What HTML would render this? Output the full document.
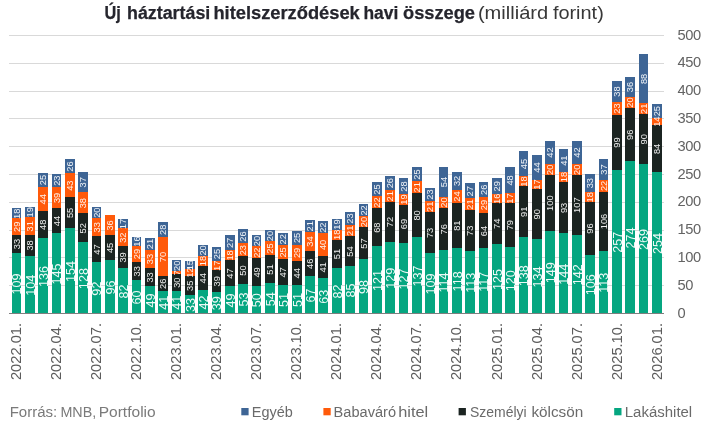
<!DOCTYPE html>
<html lang="hu"><head><meta charset="utf-8"><title>Új háztartási hitelszerződések havi összege</title>
<style>html,body{margin:0;padding:0;background:#fff}svg{display:block}</style></head>
<body>
<svg width="719" height="428" viewBox="0 0 719 428" font-family="'Liberation Sans', sans-serif">
<rect width="719" height="428" fill="#fff"/>
<rect x="9" y="285" width="655" height="1" fill="#d9d9d9"/>
<rect x="9" y="257" width="655" height="1" fill="#d9d9d9"/>
<rect x="9" y="230" width="655" height="1" fill="#d9d9d9"/>
<rect x="9" y="202" width="655" height="1" fill="#d9d9d9"/>
<rect x="9" y="174" width="655" height="1" fill="#d9d9d9"/>
<rect x="9" y="146" width="655" height="1" fill="#d9d9d9"/>
<rect x="9" y="118" width="655" height="1" fill="#d9d9d9"/>
<rect x="9" y="91" width="655" height="1" fill="#d9d9d9"/>
<rect x="9" y="63" width="655" height="1" fill="#d9d9d9"/>
<rect x="9" y="35" width="655" height="1" fill="#d9d9d9"/>
<g shape-rendering="crispEdges"><rect x="12" y="253" width="9" height="61" fill="#05a680"/><rect x="12" y="235" width="9" height="18" fill="#1b2421"/><rect x="12" y="218" width="9" height="17" fill="#ff5a0a"/><rect x="12" y="208" width="9" height="10" fill="#3e6595"/><rect x="25" y="256" width="10" height="58" fill="#05a680"/><rect x="25" y="235" width="10" height="21" fill="#1b2421"/><rect x="25" y="217" width="10" height="18" fill="#ff5a0a"/><rect x="25" y="207" width="10" height="10" fill="#3e6595"/><rect x="38" y="238" width="10" height="76" fill="#05a680"/><rect x="38" y="211" width="10" height="27" fill="#1b2421"/><rect x="38" y="187" width="10" height="24" fill="#ff5a0a"/><rect x="38" y="173" width="10" height="14" fill="#3e6595"/><rect x="52" y="233" width="9" height="81" fill="#05a680"/><rect x="52" y="208" width="9" height="25" fill="#1b2421"/><rect x="52" y="187" width="9" height="21" fill="#ff5a0a"/><rect x="52" y="174" width="9" height="13" fill="#3e6595"/><rect x="65" y="228" width="10" height="86" fill="#05a680"/><rect x="65" y="197" width="10" height="31" fill="#1b2421"/><rect x="65" y="173" width="10" height="24" fill="#ff5a0a"/><rect x="65" y="159" width="10" height="14" fill="#3e6595"/><rect x="78" y="242" width="10" height="72" fill="#05a680"/><rect x="78" y="213" width="10" height="29" fill="#1b2421"/><rect x="78" y="192" width="10" height="21" fill="#ff5a0a"/><rect x="78" y="172" width="10" height="20" fill="#3e6595"/><rect x="92" y="262" width="9" height="52" fill="#05a680"/><rect x="92" y="236" width="9" height="26" fill="#1b2421"/><rect x="92" y="218" width="9" height="18" fill="#ff5a0a"/><rect x="92" y="207" width="9" height="11" fill="#3e6595"/><rect x="105" y="260" width="10" height="54" fill="#05a680"/><rect x="105" y="235" width="10" height="25" fill="#1b2421"/><rect x="105" y="215" width="10" height="20" fill="#ff5a0a"/><rect x="118" y="268" width="10" height="46" fill="#05a680"/><rect x="118" y="246" width="10" height="22" fill="#1b2421"/><rect x="118" y="228" width="10" height="18" fill="#ff5a0a"/><rect x="118" y="219" width="10" height="9" fill="#3e6595"/><rect x="132" y="280" width="9" height="34" fill="#05a680"/><rect x="132" y="262" width="9" height="18" fill="#1b2421"/><rect x="132" y="246" width="9" height="16" fill="#ff5a0a"/><rect x="132" y="237" width="9" height="9" fill="#3e6595"/><rect x="145" y="286" width="10" height="28" fill="#05a680"/><rect x="145" y="268" width="10" height="18" fill="#1b2421"/><rect x="145" y="250" width="10" height="18" fill="#ff5a0a"/><rect x="145" y="238" width="10" height="12" fill="#3e6595"/><rect x="158" y="291" width="10" height="23" fill="#05a680"/><rect x="158" y="276" width="10" height="15" fill="#1b2421"/><rect x="158" y="237" width="10" height="39" fill="#ff5a0a"/><rect x="158" y="222" width="10" height="15" fill="#3e6595"/><rect x="172" y="291" width="9" height="23" fill="#05a680"/><rect x="172" y="274" width="9" height="17" fill="#1b2421"/><rect x="172" y="271" width="9" height="3" fill="#ff5a0a"/><rect x="172" y="260" width="9" height="11" fill="#3e6595"/><rect x="185" y="295" width="10" height="19" fill="#05a680"/><rect x="185" y="276" width="10" height="19" fill="#1b2421"/><rect x="185" y="269" width="10" height="7" fill="#ff5a0a"/><rect x="185" y="261" width="10" height="8" fill="#3e6595"/><rect x="198" y="290" width="10" height="24" fill="#05a680"/><rect x="198" y="266" width="10" height="24" fill="#1b2421"/><rect x="198" y="256" width="10" height="10" fill="#ff5a0a"/><rect x="198" y="245" width="10" height="11" fill="#3e6595"/><rect x="212" y="292" width="9" height="22" fill="#05a680"/><rect x="212" y="270" width="9" height="22" fill="#1b2421"/><rect x="212" y="261" width="9" height="9" fill="#ff5a0a"/><rect x="212" y="247" width="9" height="14" fill="#3e6595"/><rect x="225" y="286" width="10" height="28" fill="#05a680"/><rect x="225" y="260" width="10" height="26" fill="#1b2421"/><rect x="225" y="250" width="10" height="10" fill="#ff5a0a"/><rect x="225" y="235" width="10" height="15" fill="#3e6595"/><rect x="238" y="284" width="10" height="30" fill="#05a680"/><rect x="238" y="256" width="10" height="28" fill="#1b2421"/><rect x="238" y="243" width="10" height="13" fill="#ff5a0a"/><rect x="238" y="229" width="10" height="14" fill="#3e6595"/><rect x="252" y="286" width="9" height="28" fill="#05a680"/><rect x="252" y="258" width="9" height="28" fill="#1b2421"/><rect x="252" y="246" width="9" height="12" fill="#ff5a0a"/><rect x="252" y="235" width="9" height="11" fill="#3e6595"/><rect x="265" y="283" width="10" height="31" fill="#05a680"/><rect x="265" y="255" width="10" height="28" fill="#1b2421"/><rect x="265" y="241" width="10" height="14" fill="#ff5a0a"/><rect x="265" y="230" width="10" height="11" fill="#3e6595"/><rect x="278" y="285" width="10" height="29" fill="#05a680"/><rect x="278" y="259" width="10" height="26" fill="#1b2421"/><rect x="278" y="245" width="10" height="14" fill="#ff5a0a"/><rect x="278" y="233" width="10" height="12" fill="#3e6595"/><rect x="292" y="285" width="10" height="29" fill="#05a680"/><rect x="292" y="261" width="10" height="24" fill="#1b2421"/><rect x="292" y="245" width="10" height="16" fill="#ff5a0a"/><rect x="292" y="231" width="10" height="14" fill="#3e6595"/><rect x="305" y="276" width="10" height="38" fill="#05a680"/><rect x="305" y="251" width="10" height="25" fill="#1b2421"/><rect x="305" y="232" width="10" height="19" fill="#ff5a0a"/><rect x="305" y="220" width="10" height="12" fill="#3e6595"/><rect x="318" y="278" width="10" height="36" fill="#05a680"/><rect x="318" y="256" width="10" height="22" fill="#1b2421"/><rect x="318" y="233" width="10" height="23" fill="#ff5a0a"/><rect x="318" y="221" width="10" height="12" fill="#3e6595"/><rect x="332" y="268" width="10" height="46" fill="#05a680"/><rect x="332" y="240" width="10" height="28" fill="#1b2421"/><rect x="332" y="230" width="10" height="10" fill="#ff5a0a"/><rect x="332" y="219" width="10" height="11" fill="#3e6595"/><rect x="345" y="266" width="10" height="48" fill="#05a680"/><rect x="345" y="236" width="10" height="30" fill="#1b2421"/><rect x="345" y="225" width="10" height="11" fill="#ff5a0a"/><rect x="345" y="212" width="10" height="13" fill="#3e6595"/><rect x="359" y="259" width="9" height="55" fill="#05a680"/><rect x="359" y="227" width="9" height="32" fill="#1b2421"/><rect x="359" y="216" width="9" height="11" fill="#ff5a0a"/><rect x="359" y="204" width="9" height="12" fill="#3e6595"/><rect x="372" y="246" width="10" height="68" fill="#05a680"/><rect x="372" y="208" width="10" height="38" fill="#1b2421"/><rect x="372" y="196" width="10" height="12" fill="#ff5a0a"/><rect x="372" y="182" width="10" height="14" fill="#3e6595"/><rect x="385" y="242" width="10" height="72" fill="#05a680"/><rect x="385" y="202" width="10" height="40" fill="#1b2421"/><rect x="385" y="190" width="10" height="12" fill="#ff5a0a"/><rect x="385" y="176" width="10" height="14" fill="#3e6595"/><rect x="399" y="243" width="9" height="71" fill="#05a680"/><rect x="399" y="205" width="9" height="38" fill="#1b2421"/><rect x="399" y="194" width="9" height="11" fill="#ff5a0a"/><rect x="399" y="178" width="9" height="16" fill="#3e6595"/><rect x="412" y="237" width="10" height="77" fill="#05a680"/><rect x="412" y="193" width="10" height="44" fill="#1b2421"/><rect x="412" y="181" width="10" height="12" fill="#ff5a0a"/><rect x="412" y="167" width="10" height="14" fill="#3e6595"/><rect x="425" y="253" width="10" height="61" fill="#05a680"/><rect x="425" y="212" width="10" height="41" fill="#1b2421"/><rect x="425" y="201" width="10" height="11" fill="#ff5a0a"/><rect x="425" y="188" width="10" height="13" fill="#3e6595"/><rect x="439" y="250" width="9" height="64" fill="#05a680"/><rect x="439" y="208" width="9" height="42" fill="#1b2421"/><rect x="439" y="197" width="9" height="11" fill="#ff5a0a"/><rect x="439" y="167" width="9" height="30" fill="#3e6595"/><rect x="452" y="248" width="10" height="66" fill="#05a680"/><rect x="452" y="203" width="10" height="45" fill="#1b2421"/><rect x="452" y="190" width="10" height="13" fill="#ff5a0a"/><rect x="452" y="172" width="10" height="18" fill="#3e6595"/><rect x="465" y="251" width="10" height="63" fill="#05a680"/><rect x="465" y="210" width="10" height="41" fill="#1b2421"/><rect x="465" y="198" width="10" height="12" fill="#ff5a0a"/><rect x="465" y="183" width="10" height="15" fill="#3e6595"/><rect x="479" y="248" width="9" height="66" fill="#05a680"/><rect x="479" y="213" width="9" height="35" fill="#1b2421"/><rect x="479" y="197" width="9" height="16" fill="#ff5a0a"/><rect x="479" y="182" width="9" height="15" fill="#3e6595"/><rect x="492" y="244" width="10" height="70" fill="#05a680"/><rect x="492" y="203" width="10" height="41" fill="#1b2421"/><rect x="492" y="194" width="10" height="9" fill="#ff5a0a"/><rect x="492" y="178" width="10" height="16" fill="#3e6595"/><rect x="505" y="247" width="10" height="67" fill="#05a680"/><rect x="505" y="203" width="10" height="44" fill="#1b2421"/><rect x="505" y="193" width="10" height="10" fill="#ff5a0a"/><rect x="505" y="167" width="10" height="26" fill="#3e6595"/><rect x="519" y="237" width="9" height="77" fill="#05a680"/><rect x="519" y="186" width="9" height="51" fill="#1b2421"/><rect x="519" y="176" width="9" height="10" fill="#ff5a0a"/><rect x="519" y="151" width="9" height="25" fill="#3e6595"/><rect x="532" y="239" width="10" height="75" fill="#05a680"/><rect x="532" y="189" width="10" height="50" fill="#1b2421"/><rect x="532" y="180" width="10" height="9" fill="#ff5a0a"/><rect x="532" y="155" width="10" height="25" fill="#3e6595"/><rect x="545" y="231" width="10" height="83" fill="#05a680"/><rect x="545" y="175" width="10" height="56" fill="#1b2421"/><rect x="545" y="164" width="10" height="11" fill="#ff5a0a"/><rect x="545" y="141" width="10" height="23" fill="#3e6595"/><rect x="559" y="233" width="9" height="81" fill="#05a680"/><rect x="559" y="182" width="9" height="51" fill="#1b2421"/><rect x="559" y="172" width="9" height="10" fill="#ff5a0a"/><rect x="559" y="149" width="9" height="23" fill="#3e6595"/><rect x="572" y="235" width="10" height="79" fill="#05a680"/><rect x="572" y="175" width="10" height="60" fill="#1b2421"/><rect x="572" y="164" width="10" height="11" fill="#ff5a0a"/><rect x="572" y="141" width="10" height="23" fill="#3e6595"/><rect x="585" y="255" width="10" height="59" fill="#05a680"/><rect x="585" y="202" width="10" height="53" fill="#1b2421"/><rect x="585" y="192" width="10" height="10" fill="#ff5a0a"/><rect x="585" y="174" width="10" height="18" fill="#3e6595"/><rect x="599" y="251" width="9" height="63" fill="#05a680"/><rect x="599" y="192" width="9" height="59" fill="#1b2421"/><rect x="599" y="180" width="9" height="12" fill="#ff5a0a"/><rect x="599" y="159" width="9" height="21" fill="#3e6595"/><rect x="612" y="170" width="10" height="144" fill="#05a680"/><rect x="612" y="115" width="10" height="55" fill="#1b2421"/><rect x="612" y="102" width="10" height="13" fill="#ff5a0a"/><rect x="612" y="81" width="10" height="21" fill="#3e6595"/><rect x="625" y="161" width="10" height="153" fill="#05a680"/><rect x="625" y="108" width="10" height="53" fill="#1b2421"/><rect x="625" y="97" width="10" height="11" fill="#ff5a0a"/><rect x="625" y="77" width="10" height="20" fill="#3e6595"/><rect x="639" y="164" width="9" height="150" fill="#05a680"/><rect x="639" y="114" width="9" height="50" fill="#1b2421"/><rect x="639" y="103" width="9" height="11" fill="#ff5a0a"/><rect x="639" y="54" width="9" height="49" fill="#3e6595"/><rect x="652" y="172" width="10" height="142" fill="#05a680"/><rect x="652" y="125" width="10" height="47" fill="#1b2421"/><rect x="652" y="118" width="10" height="7" fill="#ff5a0a"/><rect x="652" y="104" width="10" height="14" fill="#3e6595"/></g>
<g fill="#fff" fill-opacity="0.93" text-anchor="middle"><text x="21.04" y="283.90" font-size="12.6" transform="rotate(-90 21.04 283.90)">109</text><text x="19.86" y="244.02" font-size="9.33" transform="rotate(-90 19.86 244.02)">33</text><text x="19.86" y="226.79" font-size="9.33" transform="rotate(-90 19.86 226.79)">29</text><text x="19.86" y="213.72" font-size="9.33" transform="rotate(-90 19.86 213.72)">18</text><text x="34.54" y="285.29" font-size="12.6" transform="rotate(-90 34.54 285.29)">104</text><text x="33.36" y="245.41" font-size="9.33" transform="rotate(-90 33.36 245.41)">38</text><text x="33.36" y="226.23" font-size="9.33" transform="rotate(-90 33.36 226.23)">31</text><text x="33.36" y="212.33" font-size="9.33" transform="rotate(-90 33.36 212.33)">19</text><text x="47.54" y="276.39" font-size="12.6" transform="rotate(-90 47.54 276.39)">136</text><text x="46.36" y="224.84" font-size="9.33" transform="rotate(-90 46.36 224.84)">48</text><text x="46.36" y="199.26" font-size="9.33" transform="rotate(-90 46.36 199.26)">44</text><text x="46.36" y="180.08" font-size="9.33" transform="rotate(-90 46.36 180.08)">25</text><text x="61.04" y="273.89" font-size="12.6" transform="rotate(-90 61.04 273.89)">145</text><text x="59.86" y="220.95" font-size="9.33" transform="rotate(-90 59.86 220.95)">44</text><text x="59.86" y="197.87" font-size="9.33" transform="rotate(-90 59.86 197.87)">39</text><text x="59.86" y="180.64" font-size="9.33" transform="rotate(-90 59.86 180.64)">23</text><text x="74.54" y="271.39" font-size="12.6" transform="rotate(-90 74.54 271.39)">154</text><text x="73.36" y="212.89" font-size="9.33" transform="rotate(-90 73.36 212.89)">55</text><text x="73.36" y="185.64" font-size="9.33" transform="rotate(-90 73.36 185.64)">43</text><text x="73.36" y="166.46" font-size="9.33" transform="rotate(-90 73.36 166.46)">26</text><text x="87.54" y="278.62" font-size="12.6" transform="rotate(-90 87.54 278.62)">128</text><text x="86.36" y="228.18" font-size="9.33" transform="rotate(-90 86.36 228.18)">52</text><text x="86.36" y="203.16" font-size="9.33" transform="rotate(-90 86.36 203.16)">38</text><text x="86.36" y="182.31" font-size="9.33" transform="rotate(-90 86.36 182.31)">37</text><text x="101.04" y="288.62" font-size="12.6" transform="rotate(-90 101.04 288.62)">92</text><text x="99.86" y="249.58" font-size="9.33" transform="rotate(-90 99.86 249.58)">47</text><text x="99.86" y="227.34" font-size="9.33" transform="rotate(-90 99.86 227.34)">33</text><text x="99.86" y="212.61" font-size="9.33" transform="rotate(-90 99.86 212.61)">20</text><text x="114.54" y="287.51" font-size="12.6" transform="rotate(-90 114.54 287.51)">96</text><text x="113.36" y="247.91" font-size="9.33" transform="rotate(-90 113.36 247.91)">45</text><text x="113.36" y="225.40" font-size="9.33" transform="rotate(-90 113.36 225.40)">36</text><text x="127.54" y="291.40" font-size="12.6" transform="rotate(-90 127.54 291.40)">82</text><text x="126.36" y="257.37" font-size="9.33" transform="rotate(-90 126.36 257.37)">39</text><text x="126.36" y="237.63" font-size="9.33" transform="rotate(-90 126.36 237.63)">32</text><text x="126.36" y="224.01" font-size="9.33" transform="rotate(-90 126.36 224.01)">17</text><text x="141.04" y="297.52" font-size="12.6" transform="rotate(-90 141.04 297.52)">60</text><text x="139.86" y="271.27" font-size="9.33" transform="rotate(-90 139.86 271.27)">33</text><text x="139.86" y="254.03" font-size="9.33" transform="rotate(-90 139.86 254.03)">29</text><text x="139.86" y="241.52" font-size="9.33" transform="rotate(-90 139.86 241.52)">16</text><text x="154.54" y="300.58" font-size="12.6" transform="rotate(-90 154.54 300.58)">49</text><text x="153.36" y="277.38" font-size="9.33" transform="rotate(-90 153.36 277.38)">33</text><text x="153.36" y="259.03" font-size="9.33" transform="rotate(-90 153.36 259.03)">33</text><text x="153.36" y="244.02" font-size="9.33" transform="rotate(-90 153.36 244.02)">21</text><text x="167.54" y="302.80" font-size="12.6" transform="rotate(-90 167.54 302.80)">41</text><text x="166.36" y="283.78" font-size="9.33" transform="rotate(-90 166.36 283.78)">26</text><text x="166.36" y="257.09" font-size="9.33" transform="rotate(-90 166.36 257.09)">70</text><text x="166.36" y="229.84" font-size="9.33" transform="rotate(-90 166.36 229.84)">28</text><text x="181.04" y="302.80" font-size="12.6" transform="rotate(-90 181.04 302.80)">41</text><text x="179.86" y="282.66" font-size="9.33" transform="rotate(-90 179.86 282.66)">30</text><text x="179.86" y="272.85" font-size="9.33" transform="rotate(-90 179.86 272.85)">7</text><text x="179.86" y="265.82" font-size="9.33" transform="rotate(-90 179.86 265.82)">20</text><text x="194.54" y="305.03" font-size="12.6" transform="rotate(-90 194.54 305.03)">33</text><text x="193.36" y="285.72" font-size="9.33" transform="rotate(-90 193.36 285.72)">35</text><text x="193.36" y="272.66" font-size="9.33" transform="rotate(-90 193.36 272.66)">12</text><text x="193.36" y="265.15" font-size="9.33" transform="rotate(-90 193.36 265.15)">15</text><text x="207.54" y="302.52" font-size="12.6" transform="rotate(-90 207.54 302.52)">42</text><text x="206.36" y="278.22" font-size="9.33" transform="rotate(-90 206.36 278.22)">44</text><text x="206.36" y="260.98" font-size="9.33" transform="rotate(-90 206.36 260.98)">18</text><text x="206.36" y="250.42" font-size="9.33" transform="rotate(-90 206.36 250.42)">20</text><text x="221.04" y="303.36" font-size="12.6" transform="rotate(-90 221.04 303.36)">39</text><text x="219.86" y="281.27" font-size="9.33" transform="rotate(-90 219.86 281.27)">39</text><text x="219.86" y="265.71" font-size="9.33" transform="rotate(-90 219.86 265.71)">17</text><text x="219.86" y="254.03" font-size="9.33" transform="rotate(-90 219.86 254.03)">25</text><text x="234.54" y="300.58" font-size="12.6" transform="rotate(-90 234.54 300.58)">49</text><text x="233.36" y="273.49" font-size="9.33" transform="rotate(-90 233.36 273.49)">47</text><text x="233.36" y="255.42" font-size="9.33" transform="rotate(-90 233.36 255.42)">18</text><text x="233.36" y="242.91" font-size="9.33" transform="rotate(-90 233.36 242.91)">27</text><text x="247.54" y="299.47" font-size="12.6" transform="rotate(-90 247.54 299.47)">53</text><text x="246.36" y="270.43" font-size="9.33" transform="rotate(-90 246.36 270.43)">50</text><text x="246.36" y="250.14" font-size="9.33" transform="rotate(-90 246.36 250.14)">23</text><text x="246.36" y="236.52" font-size="9.33" transform="rotate(-90 246.36 236.52)">26</text><text x="261.04" y="300.30" font-size="12.6" transform="rotate(-90 261.04 300.30)">50</text><text x="259.86" y="272.38" font-size="9.33" transform="rotate(-90 259.86 272.38)">49</text><text x="259.86" y="252.64" font-size="9.33" transform="rotate(-90 259.86 252.64)">22</text><text x="259.86" y="240.96" font-size="9.33" transform="rotate(-90 259.86 240.96)">20</text><text x="274.54" y="299.19" font-size="12.6" transform="rotate(-90 274.54 299.19)">54</text><text x="273.36" y="269.60" font-size="9.33" transform="rotate(-90 273.36 269.60)">51</text><text x="273.36" y="248.47" font-size="9.33" transform="rotate(-90 273.36 248.47)">25</text><text x="273.36" y="235.96" font-size="9.33" transform="rotate(-90 273.36 235.96)">20</text><text x="287.54" y="300.02" font-size="12.6" transform="rotate(-90 287.54 300.02)">51</text><text x="286.36" y="272.38" font-size="9.33" transform="rotate(-90 286.36 272.38)">47</text><text x="286.36" y="252.36" font-size="9.33" transform="rotate(-90 286.36 252.36)">25</text><text x="286.36" y="239.30" font-size="9.33" transform="rotate(-90 286.36 239.30)">22</text><text x="301.54" y="300.02" font-size="12.6" transform="rotate(-90 301.54 300.02)">51</text><text x="300.36" y="273.21" font-size="9.33" transform="rotate(-90 300.36 273.21)">44</text><text x="300.36" y="252.92" font-size="9.33" transform="rotate(-90 300.36 252.92)">29</text><text x="300.36" y="237.91" font-size="9.33" transform="rotate(-90 300.36 237.91)">25</text><text x="314.54" y="295.57" font-size="12.6" transform="rotate(-90 314.54 295.57)">67</text><text x="313.36" y="263.76" font-size="9.33" transform="rotate(-90 313.36 263.76)">46</text><text x="313.36" y="241.52" font-size="9.33" transform="rotate(-90 313.36 241.52)">34</text><text x="313.36" y="226.23" font-size="9.33" transform="rotate(-90 313.36 226.23)">21</text><text x="327.54" y="296.69" font-size="12.6" transform="rotate(-90 327.54 296.69)">63</text><text x="326.36" y="267.37" font-size="9.33" transform="rotate(-90 326.36 267.37)">41</text><text x="326.36" y="244.86" font-size="9.33" transform="rotate(-90 326.36 244.86)">40</text><text x="326.36" y="227.62" font-size="9.33" transform="rotate(-90 326.36 227.62)">22</text><text x="341.54" y="291.40" font-size="12.6" transform="rotate(-90 341.54 291.40)">82</text><text x="340.36" y="254.03" font-size="9.33" transform="rotate(-90 340.36 254.03)">51</text><text x="340.36" y="234.85" font-size="9.33" transform="rotate(-90 340.36 234.85)">18</text><text x="340.36" y="224.56" font-size="9.33" transform="rotate(-90 340.36 224.56)">19</text><text x="354.54" y="290.57" font-size="12.6" transform="rotate(-90 354.54 290.57)">85</text><text x="353.36" y="251.53" font-size="9.33" transform="rotate(-90 353.36 251.53)">54</text><text x="353.36" y="230.68" font-size="9.33" transform="rotate(-90 353.36 230.68)">21</text><text x="353.36" y="218.45" font-size="9.33" transform="rotate(-90 353.36 218.45)">23</text><text x="368.04" y="286.96" font-size="12.6" transform="rotate(-90 368.04 286.96)">98</text><text x="366.86" y="243.47" font-size="9.33" transform="rotate(-90 366.86 243.47)">57</text><text x="366.86" y="222.06" font-size="9.33" transform="rotate(-90 366.86 222.06)">20</text><text x="366.86" y="210.38" font-size="9.33" transform="rotate(-90 366.86 210.38)">22</text><text x="381.54" y="280.56" font-size="12.6" transform="rotate(-90 381.54 280.56)">121</text><text x="380.36" y="227.62" font-size="9.33" transform="rotate(-90 380.36 227.62)">68</text><text x="380.36" y="202.60" font-size="9.33" transform="rotate(-90 380.36 202.60)">22</text><text x="380.36" y="189.53" font-size="9.33" transform="rotate(-90 380.36 189.53)">25</text><text x="394.54" y="278.34" font-size="12.6" transform="rotate(-90 394.54 278.34)">129</text><text x="393.36" y="222.06" font-size="9.33" transform="rotate(-90 393.36 222.06)">72</text><text x="393.36" y="196.21" font-size="9.33" transform="rotate(-90 393.36 196.21)">21</text><text x="393.36" y="183.14" font-size="9.33" transform="rotate(-90 393.36 183.14)">26</text><text x="408.04" y="278.89" font-size="12.6" transform="rotate(-90 408.04 278.89)">127</text><text x="406.86" y="224.01" font-size="9.33" transform="rotate(-90 406.86 224.01)">69</text><text x="406.86" y="199.54" font-size="9.33" transform="rotate(-90 406.86 199.54)">19</text><text x="406.86" y="186.48" font-size="9.33" transform="rotate(-90 406.86 186.48)">28</text><text x="421.54" y="276.11" font-size="12.6" transform="rotate(-90 421.54 276.11)">137</text><text x="420.36" y="215.39" font-size="9.33" transform="rotate(-90 420.36 215.39)">80</text><text x="420.36" y="187.31" font-size="9.33" transform="rotate(-90 420.36 187.31)">21</text><text x="420.36" y="174.52" font-size="9.33" transform="rotate(-90 420.36 174.52)">25</text><text x="434.54" y="283.90" font-size="12.6" transform="rotate(-90 434.54 283.90)">109</text><text x="433.36" y="232.90" font-size="9.33" transform="rotate(-90 433.36 232.90)">73</text><text x="433.36" y="206.77" font-size="9.33" transform="rotate(-90 433.36 206.77)">21</text><text x="433.36" y="194.54" font-size="9.33" transform="rotate(-90 433.36 194.54)">23</text><text x="448.04" y="282.51" font-size="12.6" transform="rotate(-90 448.04 282.51)">114</text><text x="446.86" y="229.29" font-size="9.33" transform="rotate(-90 446.86 229.29)">76</text><text x="446.86" y="202.60" font-size="9.33" transform="rotate(-90 446.86 202.60)">20</text><text x="446.86" y="182.03" font-size="9.33" transform="rotate(-90 446.86 182.03)">54</text><text x="461.54" y="281.40" font-size="12.6" transform="rotate(-90 461.54 281.40)">118</text><text x="460.36" y="225.67" font-size="9.33" transform="rotate(-90 460.36 225.67)">81</text><text x="460.36" y="196.48" font-size="9.33" transform="rotate(-90 460.36 196.48)">24</text><text x="460.36" y="180.92" font-size="9.33" transform="rotate(-90 460.36 180.92)">32</text><text x="474.54" y="282.79" font-size="12.6" transform="rotate(-90 474.54 282.79)">113</text><text x="473.36" y="230.68" font-size="9.33" transform="rotate(-90 473.36 230.68)">73</text><text x="473.36" y="204.55" font-size="9.33" transform="rotate(-90 473.36 204.55)">21</text><text x="473.36" y="191.20" font-size="9.33" transform="rotate(-90 473.36 191.20)">27</text><text x="488.04" y="281.67" font-size="12.6" transform="rotate(-90 488.04 281.67)">117</text><text x="486.86" y="230.96" font-size="9.33" transform="rotate(-90 486.86 230.96)">64</text><text x="486.86" y="205.10" font-size="9.33" transform="rotate(-90 486.86 205.10)">29</text><text x="486.86" y="189.81" font-size="9.33" transform="rotate(-90 486.86 189.81)">26</text><text x="501.54" y="279.45" font-size="12.6" transform="rotate(-90 501.54 279.45)">125</text><text x="500.36" y="223.73" font-size="9.33" transform="rotate(-90 500.36 223.73)">74</text><text x="500.36" y="198.71" font-size="9.33" transform="rotate(-90 500.36 198.71)">16</text><text x="500.36" y="186.20" font-size="9.33" transform="rotate(-90 500.36 186.20)">29</text><text x="514.54" y="280.84" font-size="12.6" transform="rotate(-90 514.54 280.84)">120</text><text x="513.36" y="225.12" font-size="9.33" transform="rotate(-90 513.36 225.12)">79</text><text x="513.36" y="198.43" font-size="9.33" transform="rotate(-90 513.36 198.43)">17</text><text x="513.36" y="180.36" font-size="9.33" transform="rotate(-90 513.36 180.36)">48</text><text x="528.04" y="275.84" font-size="12.6" transform="rotate(-90 528.04 275.84)">138</text><text x="526.86" y="211.77" font-size="9.33" transform="rotate(-90 526.86 211.77)">91</text><text x="526.86" y="181.47" font-size="9.33" transform="rotate(-90 526.86 181.47)">18</text><text x="526.86" y="163.96" font-size="9.33" transform="rotate(-90 526.86 163.96)">45</text><text x="541.54" y="276.95" font-size="12.6" transform="rotate(-90 541.54 276.95)">134</text><text x="540.36" y="214.28" font-size="9.33" transform="rotate(-90 540.36 214.28)">90</text><text x="540.36" y="184.53" font-size="9.33" transform="rotate(-90 540.36 184.53)">17</text><text x="540.36" y="167.57" font-size="9.33" transform="rotate(-90 540.36 167.57)">44</text><text x="554.54" y="272.78" font-size="12.6" transform="rotate(-90 554.54 272.78)">149</text><text x="553.36" y="203.16" font-size="9.33" transform="rotate(-90 553.36 203.16)">100</text><text x="553.36" y="169.80" font-size="9.33" transform="rotate(-90 553.36 169.80)">20</text><text x="553.36" y="152.56" font-size="9.33" transform="rotate(-90 553.36 152.56)">42</text><text x="568.04" y="274.17" font-size="12.6" transform="rotate(-90 568.04 274.17)">144</text><text x="566.86" y="207.88" font-size="9.33" transform="rotate(-90 566.86 207.88)">93</text><text x="566.86" y="177.02" font-size="9.33" transform="rotate(-90 566.86 177.02)">18</text><text x="566.86" y="160.62" font-size="9.33" transform="rotate(-90 566.86 160.62)">41</text><text x="581.54" y="274.72" font-size="12.6" transform="rotate(-90 581.54 274.72)">142</text><text x="580.36" y="205.10" font-size="9.33" transform="rotate(-90 580.36 205.10)">107</text><text x="580.36" y="169.80" font-size="9.33" transform="rotate(-90 580.36 169.80)">20</text><text x="580.36" y="152.56" font-size="9.33" transform="rotate(-90 580.36 152.56)">42</text><text x="594.54" y="284.73" font-size="12.6" transform="rotate(-90 594.54 284.73)">106</text><text x="593.36" y="228.59" font-size="9.33" transform="rotate(-90 593.36 228.59)">96</text><text x="593.36" y="197.32" font-size="9.33" transform="rotate(-90 593.36 197.32)">18</text><text x="593.36" y="183.14" font-size="9.33" transform="rotate(-90 593.36 183.14)">33</text><text x="608.04" y="282.79" font-size="12.6" transform="rotate(-90 608.04 282.79)">113</text><text x="606.86" y="221.50" font-size="9.33" transform="rotate(-90 606.86 221.50)">106</text><text x="606.86" y="185.92" font-size="9.33" transform="rotate(-90 606.86 185.92)">22</text><text x="606.86" y="169.52" font-size="9.33" transform="rotate(-90 606.86 169.52)">37</text><text x="621.54" y="242.28" font-size="12.6" transform="rotate(-90 621.54 242.28)">257</text><text x="620.36" y="142.44" font-size="9.33" transform="rotate(-90 620.36 142.44)">99</text><text x="620.36" y="108.52" font-size="9.33" transform="rotate(-90 620.36 108.52)">23</text><text x="620.36" y="91.57" font-size="9.33" transform="rotate(-90 620.36 91.57)">38</text><text x="634.54" y="238.03" font-size="12.6" transform="rotate(-90 634.54 238.03)">274</text><text x="633.36" y="134.77" font-size="9.33" transform="rotate(-90 633.36 134.77)">96</text><text x="633.36" y="102.52" font-size="9.33" transform="rotate(-90 633.36 102.52)">20</text><text x="633.36" y="86.95" font-size="9.33" transform="rotate(-90 633.36 86.95)">36</text><text x="648.04" y="239.42" font-size="12.6" transform="rotate(-90 648.04 239.42)">269</text><text x="646.86" y="139.22" font-size="9.33" transform="rotate(-90 646.86 139.22)">90</text><text x="646.86" y="108.77" font-size="9.33" transform="rotate(-90 646.86 108.77)">21</text><text x="646.86" y="78.89" font-size="9.33" transform="rotate(-90 646.86 78.89)">88</text><text x="661.54" y="243.59" font-size="12.6" transform="rotate(-90 661.54 243.59)">254</text><text x="660.36" y="148.89" font-size="9.33" transform="rotate(-90 660.36 148.89)">84</text><text x="660.36" y="121.65" font-size="9.33" transform="rotate(-90 660.36 121.65)">14</text><text x="660.36" y="111.14" font-size="9.33" transform="rotate(-90 660.36 111.14)">25</text></g>
<rect x="9" y="313" width="655" height="1" fill="#7f7f7f"/>
<g fill="#636363" font-size="14.67" letter-spacing="-0.3"><text x="677.4" y="317.50">0</text><text x="677.4" y="289.70">50</text><text x="677.4" y="261.90">100</text><text x="677.4" y="234.10">150</text><text x="677.4" y="206.30">200</text><text x="677.4" y="178.50">250</text><text x="677.4" y="150.70">300</text><text x="677.4" y="122.90">350</text><text x="677.4" y="95.10">400</text><text x="677.4" y="67.30">450</text><text x="677.4" y="39.50">500</text></g>
<g fill="#5c5c5c" font-size="14.67" text-anchor="end"><text x="21.27" y="323" transform="rotate(-90 21.27 323)">2022.01.</text><text x="61.29" y="323" transform="rotate(-90 61.29 323)">2022.04.</text><text x="101.31" y="323" transform="rotate(-90 101.31 323)">2022.07.</text><text x="141.33" y="323" transform="rotate(-90 141.33 323)">2022.10.</text><text x="181.35" y="323" transform="rotate(-90 181.35 323)">2023.01.</text><text x="221.37" y="323" transform="rotate(-90 221.37 323)">2023.04.</text><text x="261.39" y="323" transform="rotate(-90 261.39 323)">2023.07.</text><text x="301.41" y="323" transform="rotate(-90 301.41 323)">2023.10.</text><text x="341.43" y="323" transform="rotate(-90 341.43 323)">2024.01.</text><text x="381.45" y="323" transform="rotate(-90 381.45 323)">2024.04.</text><text x="421.47" y="323" transform="rotate(-90 421.47 323)">2024.07.</text><text x="461.49" y="323" transform="rotate(-90 461.49 323)">2024.10.</text><text x="501.51" y="323" transform="rotate(-90 501.51 323)">2025.01.</text><text x="541.53" y="323" transform="rotate(-90 541.53 323)">2025.04.</text><text x="581.55" y="323" transform="rotate(-90 581.55 323)">2025.07.</text><text x="621.57" y="323" transform="rotate(-90 621.57 323)">2025.10.</text><text x="661.59" y="323" transform="rotate(-90 661.59 323)">2026.01.</text></g>
<g stroke="#25252d" stroke-width="0.25" font-size="18.67" fill="#25252d"><text x="104.6" y="19.2" textLength="16.3" lengthAdjust="spacingAndGlyphs" font-weight="bold">Új</text><text x="127.0" y="19.2" textLength="83.3" lengthAdjust="spacingAndGlyphs" font-weight="bold">háztartási</text><text x="213.4" y="19.2" textLength="146.4" lengthAdjust="spacingAndGlyphs" font-weight="bold">hitelszerződések</text><text x="363.4" y="19.2" textLength="34.9" lengthAdjust="spacingAndGlyphs" font-weight="bold">havi</text><text x="403.0" y="19.2" textLength="72.0" lengthAdjust="spacingAndGlyphs" font-weight="bold">összege</text></g>
<g font-size="18.67" fill="#383838"><text x="477.9" y="19.2" textLength="70.3" lengthAdjust="spacingAndGlyphs">(milliárd</text><text x="552.9" y="19.2" textLength="50.9" lengthAdjust="spacingAndGlyphs">forint)</text></g>
<g font-size="14.67" fill="#7a7a7a"><text x="9.7" y="417.0" textLength="47.6" lengthAdjust="spacingAndGlyphs">Forrás:</text><text x="60.4" y="417.0" textLength="35.8" lengthAdjust="spacingAndGlyphs">MNB,</text><text x="98.7" y="417.0" textLength="57.0" lengthAdjust="spacingAndGlyphs">Portfolio</text></g>
<rect x="241.3" y="408" width="7.3" height="7.3" fill="#3e6595"/>
<g font-size="14.67" fill="#6a6a6a"><text x="251.8" y="417.0" textLength="41.0" lengthAdjust="spacingAndGlyphs">Egyéb</text></g>
<rect x="323.4" y="408" width="7.3" height="7.3" fill="#ff5a0a"/>
<g font-size="14.67" fill="#6a6a6a"><text x="333.6" y="417.0" textLength="62.4" lengthAdjust="spacingAndGlyphs">Babaváró</text><text x="398.2" y="417.0" textLength="30.0" lengthAdjust="spacingAndGlyphs">hitel</text></g>
<rect x="458.6" y="408" width="7.3" height="7.3" fill="#1b2421"/>
<g font-size="14.67" fill="#6a6a6a"><text x="470.0" y="417.0" textLength="56.6" lengthAdjust="spacingAndGlyphs">Személyi</text><text x="531.4" y="417.0" textLength="51.9" lengthAdjust="spacingAndGlyphs">kölcsön</text></g>
<rect x="614.2" y="408" width="7.3" height="7.3" fill="#05a680"/>
<g font-size="14.67" fill="#6a6a6a"><text x="624.8" y="417.0" textLength="67.4" lengthAdjust="spacingAndGlyphs">Lakáshitel</text></g>
</svg>
</body></html>
